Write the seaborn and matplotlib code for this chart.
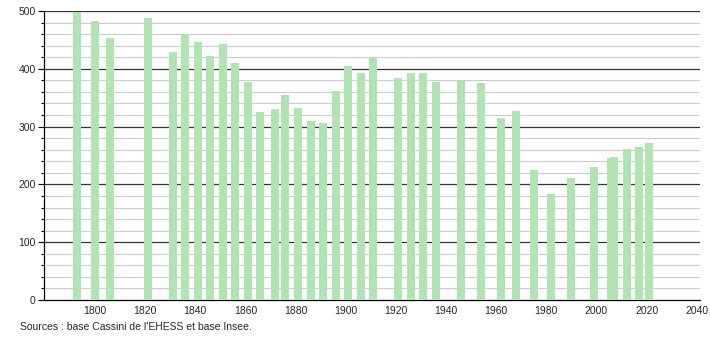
import numpy as np
import pandas as pd
import matplotlib
matplotlib.use("Agg")
import matplotlib.pyplot as plt
import seaborn as sns
from matplotlib.ticker import MultipleLocator

years = [1793, 1800, 1806, 1821, 1831, 1836, 1841, 1846, 1851, 1856,
         1861, 1866, 1872, 1876, 1881, 1886, 1891, 1896, 1901, 1906,
         1911, 1921, 1926, 1931, 1936, 1946, 1954, 1962, 1968, 1975,
         1982, 1990, 1999, 2006, 2007, 2012, 2017, 2021]
population = [499, 482, 453, 488, 429, 460, 446, 422, 443, 410,
              377, 325, 330, 355, 332, 310, 306, 362, 405, 393,
              419, 384, 393, 393, 377, 381, 375, 315, 327, 225,
              183, 211, 230, 246, 247, 261, 265, 272]
x_ticks = [1800, 1820, 1840, 1860, 1880, 1900, 1920, 1940, 1960, 1980, 2000, 2020, 2040]
source_text = "Sources : base Cassini de l'EHESS et base Insee."

sns.set_style("white")
plt.rcParams['font.family'] = ['Liberation Sans', 'DejaVu Sans']

df = pd.DataFrame({"year": years, "pop": population})

fig = plt.figure(figsize=(7.1, 3.4), dpi=100)
ax = fig.add_axes([44/710, 40/340, 656/710, 289/340])

min_gap = np.min(np.diff(sorted(years)))
bar_years = 3.2
sns.barplot(data=df, x="year", y="pop", native_scale=True, ax=ax,
            color="#b2e3b2", saturation=1, width=bar_years / min_gap,
            linewidth=0, zorder=3)

ax.set_xlim(1779.7, 2041.3)
ax.set_ylim(0, 500)
ax.set_xticks(x_ticks)
ax.set_xticklabels([str(t) for t in x_ticks])
ax.set_yticks([0, 100, 200, 300, 400, 500])
ax.yaxis.set_minor_locator(MultipleLocator(20))

for v in range(20, 500, 20):
    if v % 100 != 0:
        ax.axhline(v, color="#cccccc", lw=0.8, zorder=1)
for v in range(100, 501, 100):
    ax.axhline(v, color="#333333", lw=0.9, zorder=2)

ax.set_xlabel("")
ax.set_ylabel("")
for s in ["top", "right"]:
    ax.spines[s].set_visible(False)
ax.spines["left"].set_color("black")
ax.spines["bottom"].set_color("black")
ax.spines["left"].set_linewidth(0.9)
ax.spines["bottom"].set_linewidth(0.9)

ax.tick_params(axis="y", which="major", length=4, width=0.8, color="black",
               labelsize=7.5, pad=2, left=True)
ax.tick_params(axis="y", which="minor", length=2.5, width=0.8, color="black", left=True)
ax.tick_params(axis="x", which="major", length=0, labelsize=7.5, pad=4)

fig.text(20/710, 1 - 327/340, source_text, fontsize=7.5, va="center", ha="left")

fig.savefig("out.png", dpi=100)
